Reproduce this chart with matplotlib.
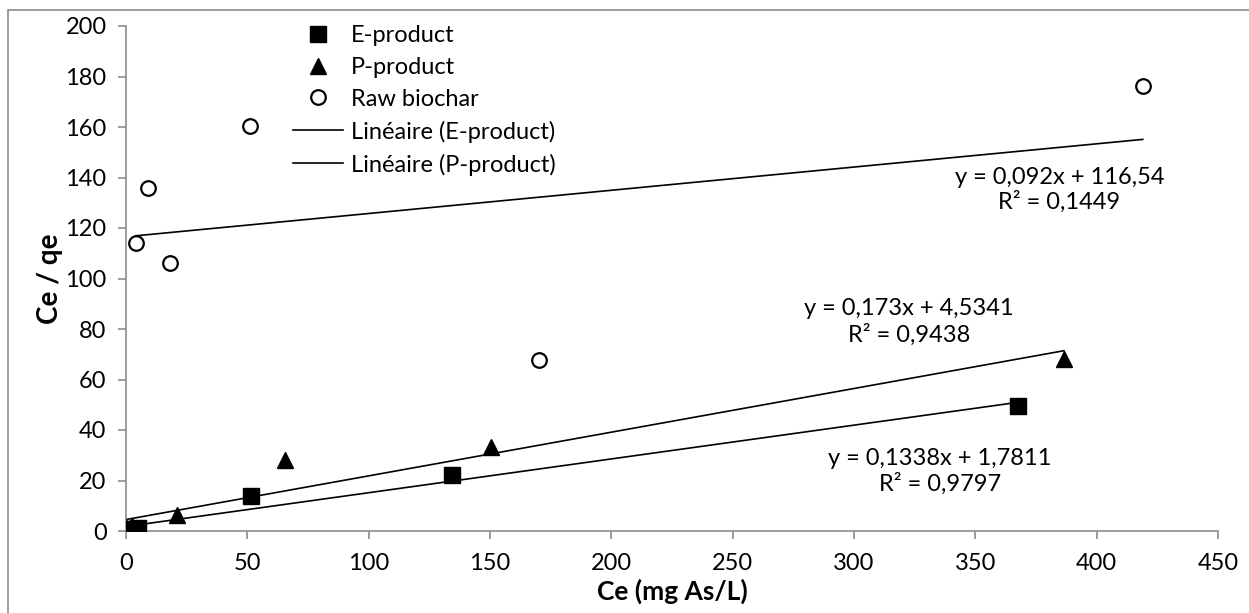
import numpy as np
import matplotlib
matplotlib.use("Agg")
import matplotlib.pyplot as plt
from matplotlib.patches import Rectangle

plt.rcParams['font.family'] = ['Lato', 'DejaVu Sans']

# Data
e_x = [0.0, 1.5, 5.0, 51.5, 134.5, 367.5]
e_y = [0.4, 0.6, 1.2, 13.8, 22.3, 49.5]
p_x = [0.5, 2.5, 21.0, 65.5, 150.5, 386.5]
p_y = [1.0, 2.0, 6.3, 28.2, 33.3, 68.3]
r_x = [4.0, 9.0, 18.0, 51.0, 170.0, 419.0]
r_y = [114.0, 135.8, 106.2, 160.3, 67.9, 176.3]

# Trendline coefficients (slope, intercept) as displayed
e_fit = [0.1338, 1.7811]
p_fit = [0.173, 4.5341]
r_fit = [0.092, 116.54]

eq_e = ["y = 0,1338x + 1,7811", "R² = 0,9797"]
eq_p = ["y = 0,173x + 4,5341", "R² = 0,9438"]
eq_r = ["y = 0,092x + 116,54", "R² = 0,1449"]

x_ticks = [0, 50, 100, 150, 200, 250, 300, 350, 400, 450]
y_ticks = [0, 20, 40, 60, 80, 100, 120, 140, 160, 180, 200]

W, H = 1249, 613
FS = 17
fig = plt.figure(figsize=(W / 100, H / 100), dpi=100)
ax = fig.add_axes([126 / W, 1 - 531 / H, (1218 - 126) / W, (531 - 26) / H])

# outer chart frame
fig.patches.append(Rectangle((8 / W, -0.05), 1.1, 1 - 10 / H + 0.05, transform=fig.transFigure,
                             fill=False, edgecolor='#8c8c8c', linewidth=1.2))

ax.plot(e_x, e_y, linestyle='none', marker='s', ms=11.5, color='black', label='E-product', zorder=4)
ax.plot(p_x, p_y, linestyle='none', marker='^', ms=12, color='black', label='P-product', zorder=4)
ax.plot(r_x, r_y, linestyle='none', marker='o', ms=10.5, mfc='white', mec='black', mew=1.6,
        label='Raw biochar', zorder=4)

def trend(xs, fit):
    xx = np.array([min(xs), max(xs)])
    return xx, fit[0] * xx + fit[1]

xx, yy = trend(e_x, e_fit)
ax.plot(xx, yy, color='black', lw=1.2, label='Linéaire (E-product)', zorder=3)
xx, yy = trend(p_x, p_fit)
ax.plot(xx, yy, color='black', lw=1.2, label='Linéaire (P-product)', zorder=3)
xx, yy = trend(r_x, r_fit)
ax.plot(xx, yy, color='black', lw=1.2, zorder=3)

ax.set_xlim(0, 450)
ax.set_ylim(0, 200)
ax.set_xticks(x_ticks)
ax.set_yticks(y_ticks)
ax.tick_params(axis='both', labelsize=FS, colors='#8c8c8c', labelcolor='black', length=6, width=1.2)
ax.tick_params(axis='y', pad=8)
ax.tick_params(axis='x', pad=10)
for s in ['top', 'right']:
    ax.spines[s].set_visible(False)
for s in ['left', 'bottom']:
    ax.spines[s].set_color('#8c8c8c')
    ax.spines[s].set_linewidth(1.2)

ax.set_xlabel('Ce (mg As/L)', fontsize=19, fontweight='bold', labelpad=3)
ax.set_ylabel('Ce / qe', fontsize=20, fontweight='bold', labelpad=2)

def eq(x, y, lines, gap):
    ax.text(x, y, lines[0], ha='center', va='center', fontsize=FS)
    ax.text(x, y - gap, lines[1], ha='center', va='center', fontsize=FS)

eq(384.6, 140.0, eq_r, 9.6)
eq(322.7, 88.1, eq_p, 10.2)
eq(335.5, 28.9, eq_e, 10.0)

leg = ax.legend(loc='upper left', bbox_to_anchor=((293 - 126) / 1092, 1.002), frameon=False, fontsize=FS,
                handlelength=2.1, handletextpad=0.35, labelspacing=0.46, borderaxespad=0, borderpad=0)

fig.savefig('out.png', dpi=100)
